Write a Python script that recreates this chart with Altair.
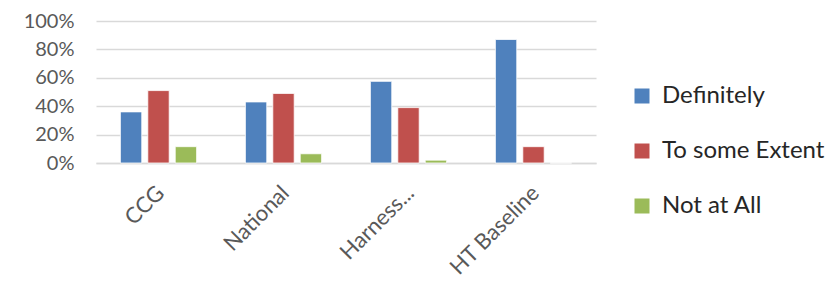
import altair as alt
import pandas as pd

categories = ["CCG", "National", "Harness...", "HT Baseline"]
series = ["Definitely", "To some Extent", "Not at All"]
definitely = [0.36, 0.43, 0.575, 0.87]
to_some_extent = [0.51, 0.49, 0.39, 0.115]
not_at_all = [0.115, 0.065, 0.02, 0.0]
colors = ["#4F81BD", "#C0504D", "#9BBB59"]

rows = []
for s, vals in zip(series, [definitely, to_some_extent, not_at_all]):
    for c, v in zip(categories, vals):
        rows.append({"category": c, "series": s, "value": v})
df = pd.DataFrame(rows)

FONT = "Lato"

chart = alt.Chart(df).mark_bar(stroke="white", strokeWidth=0.8).encode(
    x=alt.X("category:N", sort=categories, title=None,
            scale=alt.Scale(paddingInner=0.39, paddingOuter=0.195),
            axis=alt.Axis(labelAngle=-45, labelFontSize=22, labelColor="#595959",
                          labelFont=FONT, ticks=False, domain=True,
                          domainColor="#D9D9D9", domainWidth=1.5, labelPadding=19,
                          labelOffset=-5)),
    xOffset=alt.XOffset("series:N", sort=series,
                        scale=alt.Scale(paddingInner=0.22, paddingOuter=0)),
    y=alt.Y("value:Q", title=None,
            scale=alt.Scale(domain=[0, 1]),
            axis=alt.Axis(values=[0, 0.2, 0.4, 0.6, 0.8, 1.0], format=".0%",
                          labelFontSize=20, labelColor="#595959", labelFont=FONT,
                          ticks=False, domain=False, gridColor="#D9D9D9",
                          gridWidth=1.5, labelPadding=22)),
    color=alt.Color("series:N", sort=series,
                    scale=alt.Scale(domain=series, range=colors),
                    legend=alt.Legend(title=None, orient="none", legendX=534, legendY=63,
                                      padding=0,
                                      symbolType="square", symbolSize=225,
                                      symbolStrokeWidth=0,
                                      labelFontSize=24, labelFont=FONT,
                                      labelColor="#262626", labelOffset=8,
                                      labelLimit=300,
                                      rowPadding=31)),
).properties(
    width=500, height=142,
    autosize=alt.AutoSizeParams(type="none"),
    padding={"left": 88, "top": 13, "right": 231, "bottom": 118},
).configure_view(stroke=None)

chart.save("out.html", embed_options={"renderer": "svg", "actions": False})
